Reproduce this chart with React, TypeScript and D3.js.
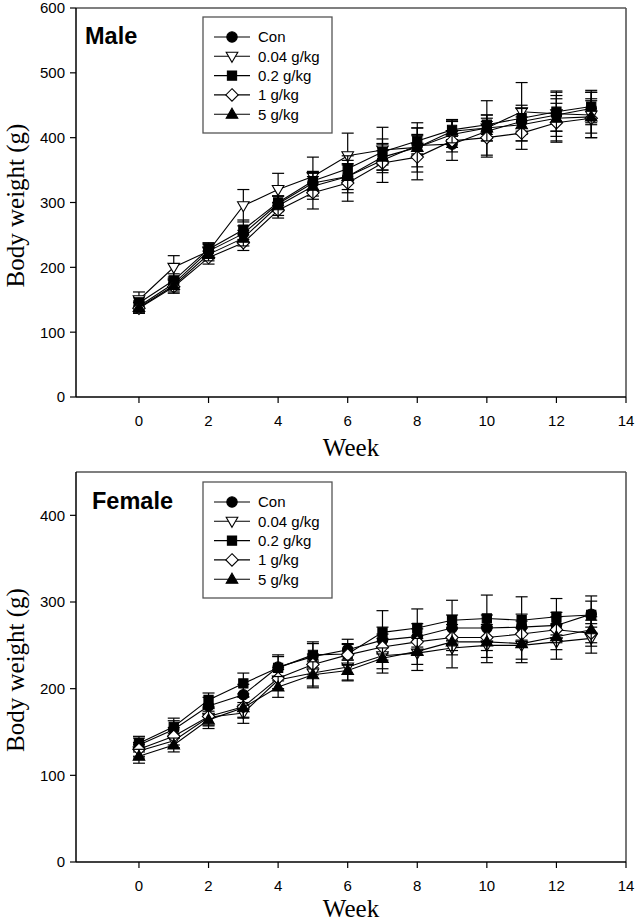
import React from "react";
import * as d3 from "d3";

const weeks = [0, 1, 2, 3, 4, 5, 6, 7, 8, 9, 10, 11, 12, 13];
const seriesLabels = ["Con", "0.04 g/kg", "0.2 g/kg", "1 g/kg", "5 g/kg"];
const seriesShapes = ["circle", "triangleDown", "square", "diamond", "triangleUp"];

const maleCon = [140, 175, 225, 252, 298, 330, 340, 365, 388, 390, 410, 425, 435, 445];
const male004 = [150, 200, 225, 295, 320, 340, 372, 381, 385, 405, 415, 440, 437, 435];
const male02 = [145, 180, 228, 258, 300, 333, 352, 378, 395, 412, 420, 430, 440, 448];
const male1 = [137, 170, 215, 238, 288, 315, 330, 361, 370, 395, 400, 407, 423, 430];
const male5 = [138, 172, 220, 245, 295, 325, 340, 370, 385, 410, 415, 420, 430, 432];

const maleConSd = [8, 10, 10, 12, 12, 15, 20, 15, 15, 12, 15, 20, 25, 25];
const male004Sd = [12, 18, 12, 25, 25, 30, 35, 35, 38, 20, 42, 45, 35, 35];
const male02Sd = [8, 10, 10, 15, 10, 15, 20, 20, 20, 15, 15, 20, 30, 25];
const male1Sd = [8, 10, 10, 12, 12, 25, 28, 30, 35, 30, 30, 25, 30, 30];
const male5Sd = [8, 10, 10, 12, 15, 20, 25, 20, 30, 18, 20, 25, 35, 25];

const femaleCon = [135, 153, 180, 193, 225, 237, 245, 256, 260, 270, 270, 271, 273, 286];
const female004 = [128, 140, 167, 172, 210, 218, 225, 238, 241, 247, 250, 250, 254, 258];
const female02 = [137, 156, 187, 206, 224, 239, 240, 265, 270, 279, 281, 279, 283, 285];
const female1 = [130, 145, 168, 179, 212, 228, 239, 248, 254, 259, 259, 263, 268, 264];
const female5 = [122, 135, 164, 178, 202, 216, 221, 235, 243, 254, 254, 252, 260, 268];

const femaleConSd = [8, 10, 10, 12, 12, 15, 12, 15, 15, 15, 15, 15, 15, 15];
const female004Sd = [8, 8, 10, 12, 12, 15, 15, 20, 20, 23, 20, 20, 20, 17];
const female02Sd = [8, 10, 8, 12, 15, 15, 12, 25, 22, 23, 27, 27, 21, 22];
const female1Sd = [8, 10, 10, 12, 12, 12, 12, 15, 15, 15, 15, 15, 15, 15];
const female5Sd = [8, 8, 10, 12, 12, 15, 12, 12, 15, 15, 18, 18, 15, 15];

const xTicks = [0, 2, 4, 6, 8, 10, 12, 14];
const maleYTicks = [0, 100, 200, 300, 400, 500, 600];
const femaleYTicks = [0, 100, 200, 300, 400];

const SANS = "'Liberation Sans', Arial, sans-serif";
const SERIF = "'Liberation Serif', 'Times New Roman', serif";

function markerPath(shape: string): string {
  switch (shape) {
    case "circle":
      return "M5.2,0A5.2,5.2 0 1,1 -5.2,0A5.2,5.2 0 1,1 5.2,0Z";
    case "square":
      return "M-4.6,-4.6L4.6,-4.6L4.6,4.6L-4.6,4.6Z";
    case "diamond":
      return "M0,-6.2L6.2,0L0,6.2L-6.2,0Z";
    case "triangleUp":
      return "M0,-6L5.8,4L-5.8,4Z";
    case "triangleDown":
      return "M0,6L5.8,-4L-5.8,-4Z";
  }
  return "";
}
const filled: Record<string, boolean> = {
  circle: true,
  square: true,
  triangleUp: true,
  diamond: false,
  triangleDown: false,
};

function Marker({ shape, x, y }: { shape: string; x: number; y: number }) {
  return (
    <path
      d={markerPath(shape)}
      transform={`translate(${x},${y})`}
      fill={filled[shape] ? "#000" : "#fff"}
      stroke="#000"
      strokeWidth={1.1}
    />
  );
}

type PanelProps = {
  title: string;
  top: number;
  bottom: number;
  yMax: number;
  yTicks: number[];
  means: number[][];
  sds: number[][];
  titlePos: [number, number];
  legendTop: number;
  weekY: number;
};

const LEFT = 76;
const RIGHT = 626;

function Panel(p: PanelProps) {
  const x = d3.scaleLinear().domain([-1.81, 14]).range([LEFT, RIGHT]);
  const y = d3.scaleLinear().domain([0, p.yMax]).range([p.bottom, p.top]);
  const line = d3
    .line<number>()
    .x((_, i) => x(weeks[i]))
    .y((d) => y(d));
  const cap = 6;
  const legendRowH = 19.3;
  return (
    <g>
      <line x1={LEFT} x2={RIGHT} y1={p.top} y2={p.top} stroke="#555" strokeWidth={1.6} />
      <line x1={RIGHT} x2={RIGHT} y1={p.top} y2={p.bottom} stroke="#555" strokeWidth={1.6} />
      <line x1={LEFT} x2={LEFT} y1={p.top} y2={p.bottom} stroke="#000" strokeWidth={1.5} />
      <line x1={LEFT} x2={RIGHT} y1={p.bottom} y2={p.bottom} stroke="#000" strokeWidth={1.5} />
      {p.yTicks.map((t) => (
        <g key={"y" + t}>
          <line x1={LEFT - 6} x2={LEFT} y1={y(t)} y2={y(t)} stroke="#000" strokeWidth={1.2} />
          <text
            x={LEFT - 11}
            y={y(t)}
            dy="0.36em"
            textAnchor="end"
            fontFamily={SANS}
            fontSize={15}
          >
            {t}
          </text>
        </g>
      ))}
      {xTicks.map((t) => (
        <g key={"x" + t}>
          <line x1={x(t)} x2={x(t)} y1={p.bottom} y2={p.bottom + 6} stroke="#000" strokeWidth={1.2} />
          <text
            x={x(t)}
            y={p.bottom + 29}
            textAnchor="middle"
            fontFamily={SANS}
            fontSize={15}
          >
            {t}
          </text>
        </g>
      ))}
      <text
        transform={`translate(24,${(p.top + p.bottom) / 2 + 3}) rotate(-90)`}
        textAnchor="middle"
        fontFamily={SERIF}
        fontSize={25}
      >
        Body weight (g)
      </text>
      <text x={(LEFT + RIGHT) / 2} y={p.weekY} textAnchor="middle" fontFamily={SERIF} fontSize={25}>
        Week
      </text>
      <text
        x={p.titlePos[0]}
        y={p.titlePos[1]}
        fontFamily={SANS}
        fontWeight="bold"
        fontSize={23.5}
      >
        {p.title}
      </text>
      {p.means.map((m, si) => (
        <g key={"s" + si}>
          <path d={line(m) || ""} fill="none" stroke="#000" strokeWidth={1.1} />
          {m.map((v, i) => {
            const cx = x(weeks[i]);
            const yHi = y(v + p.sds[si][i]);
            const yLo = y(v - p.sds[si][i]);
            return (
              <g key={i}>
                <line x1={cx} x2={cx} y1={yHi} y2={yLo} stroke="#000" strokeWidth={1.2} />
                <line x1={cx - cap} x2={cx + cap} y1={yHi} y2={yHi} stroke="#000" strokeWidth={1.2} />
                <line x1={cx - cap} x2={cx + cap} y1={yLo} y2={yLo} stroke="#000" strokeWidth={1.2} />
              </g>
            );
          })}
          {m.map((v, i) => (
            <Marker key={"m" + i} shape={seriesShapes[si]} x={x(weeks[i])} y={y(v)} />
          ))}
        </g>
      ))}
      <rect
        x={203}
        y={p.legendTop}
        width={129}
        height={116}
        fill="#fff"
        stroke="#555"
        strokeWidth={1.3}
      />
      {seriesLabels.map((lab, i) => {
        const ly = p.legendTop + 20 + i * legendRowH;
        return (
          <g key={"l" + i}>
            <line x1={214} x2={250} y1={ly} y2={ly} stroke="#000" strokeWidth={1.1} />
            <Marker shape={seriesShapes[i]} x={232} y={ly} />
            <text x={258} y={ly} dy="0.36em" fontFamily={SANS} fontSize={15}>
              {lab}
            </text>
          </g>
        );
      })}
    </g>
  );
}

export default function App() {
  return (
    <svg width={636} height={922} style={{ position: "absolute", left: 0, top: 0, background: "#fff" }}>
      <rect x={0} y={0} width={636} height={922} fill="#fff" />
      <Panel
        title="Male"
        top={8}
        bottom={397}
        yMax={600}
        yTicks={maleYTicks}
        means={[maleCon, male004, male02, male1, male5]}
        sds={[maleConSd, male004Sd, male02Sd, male1Sd, male5Sd]}
        titlePos={[85, 44]}
        legendTop={17}
        weekY={456}
      />
      <Panel
        title="Female"
        top={472}
        bottom={862}
        yMax={450}
        yTicks={femaleYTicks}
        means={[femaleCon, female004, female02, female1, female5]}
        sds={[femaleConSd, female004Sd, female02Sd, female1Sd, female5Sd]}
        titlePos={[92, 509]}
        legendTop={482}
        weekY={917}
      />
    </svg>
  );
}
